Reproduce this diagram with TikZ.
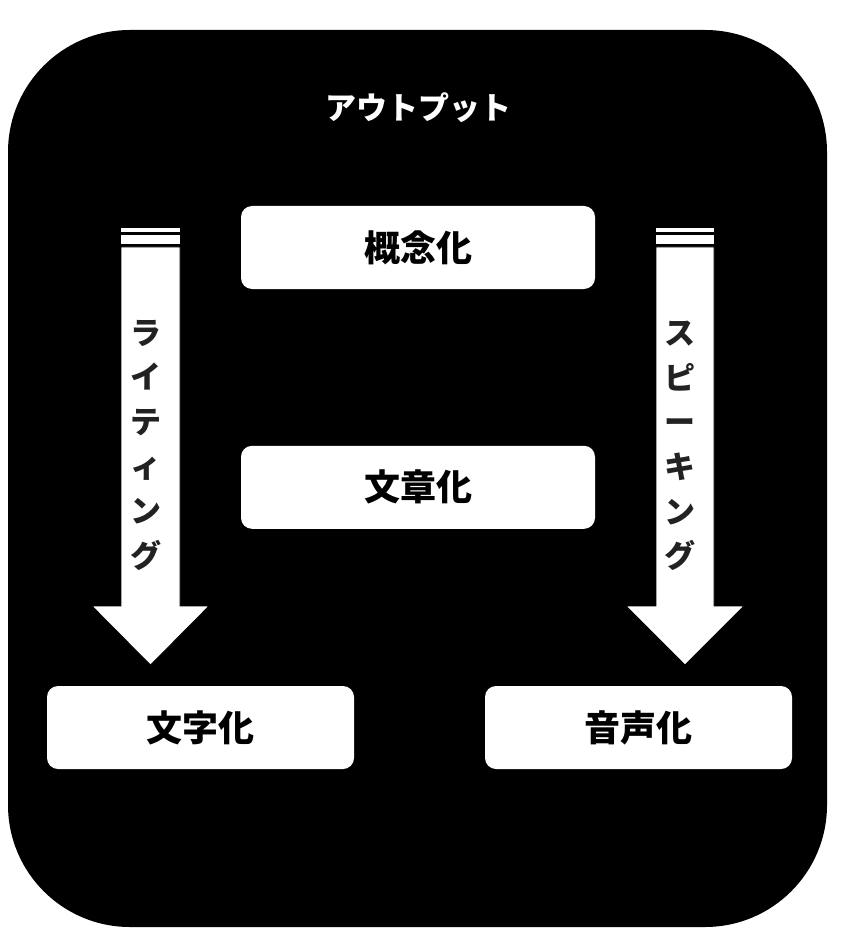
\documentclass[tikz,border=0pt]{standalone}
\usepackage{fontspec}
\setmainfont{Noto Sans CJK JP}
\definecolor{vtext}{HTML}{222222}
\tikzset{
  box/.style={fill=white, rounded corners=11pt, inner sep=0pt, minimum height=83pt,
    font=\fontsize{36}{40}\selectfont\bfseries, text=black},
  blockarrow/.style={fill=white, draw=black, line width=0.8pt},
  vlabel/.style={align=center, inner sep=0pt, text=vtext,
    font=\fontsize{31}{44.6}\selectfont\bfseries},
}
\begin{document}
\begin{tikzpicture}[x=1pt,y=-1pt]
\useasboundingbox (0,0) rectangle (855,949);
\fill[black, rounded corners=122pt] (8,30) rectangle (827,927);
\node[text=white, font=\fontsize{31}{34}\selectfont\bfseries, inner sep=0pt] (title) at (418,108) {アウトプット};
% boxes
\node[box, minimum width=354pt] (gainen) at (418,247.5) {概念化};
\node[box, minimum width=354pt] (bunshou) at (418,487.3) {文章化};
\node[box, minimum width=307pt] (moji) at (200.5,727.5) {文字化};
\node[box, minimum width=307pt] (onsei) at (638.5,727.5) {音声化};
% left block arrow
\fill[white] (121,228) rectangle (180,232.5);
\fill[white] (121,235.5) rectangle (180,244);
\path[blockarrow] (121,247) -- (180,247) -- (180,606) -- (209,606) -- (150.5,665) -- (92,606) -- (121,606) -- cycle;
% right block arrow
\fill[white] (656,228) rectangle (714,232.5);
\fill[white] (656,235.5) rectangle (714,244);
\path[blockarrow] (656,247) -- (714,247) -- (714,606) -- (744,606) -- (685,665) -- (626,606) -- (656,606) -- cycle;
% vertical labels
\node[vlabel] (writing) at (146,445) {ラ\\イ\\テ\\ィ\\ン\\グ};
\node[vlabel] (speaking) at (680,446) {ス\\ピ\\ー\\キ\\ン\\グ};
\end{tikzpicture}
\end{document}
